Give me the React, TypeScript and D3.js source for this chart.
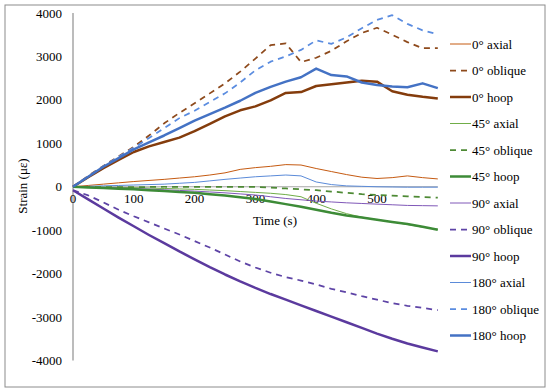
import React from "react";
import * as d3 from "d3";

// time (s) for every series
const times = [0, 25, 50, 75, 100, 125, 150, 175, 200, 225, 250, 275, 300, 325, 350, 375, 400, 425, 450, 475, 500, 525, 550, 575, 600];

// strain readings (με), one array per gauge
const axial0 = [0, 30, 60, 90, 120, 145, 170, 200, 230, 270, 320, 400, 440, 470, 510, 500, 420, 350, 280, 220, 190, 210, 250, 210, 180];
const oblique0 = [0, 250, 480, 700, 920, 1180, 1460, 1700, 1920, 2150, 2380, 2650, 2950, 3260, 3300, 2870, 2970, 3130, 3350, 3540, 3660, 3500, 3330, 3190, 3190];
const hoop0 = [0, 220, 430, 620, 800, 930, 1030, 1130, 1280, 1450, 1620, 1760, 1850, 1990, 2160, 2180, 2320, 2360, 2400, 2440, 2420, 2200, 2120, 2070, 2030];
const axial45 = [0, -5, -10, -15, -20, -30, -40, -50, -60, -75, -90, -110, -130, -150, -180, -230, -380, -510, -620, -700, -760, -810, -870, -930, -980];
const oblique45 = [0, -5, -10, -10, -10, -5, 0, 0, 0, 0, 0, 0, 0, -20, -40, -60, -80, -110, -140, -170, -190, -205, -220, -235, -250];
const hoop45 = [0, -15, -30, -45, -60, -80, -100, -120, -140, -170, -200, -240, -280, -340, -400, -460, -530, -600, -660, -710, -760, -810, -860, -920, -990];
const axial90 = [0, -10, -20, -30, -40, -55, -70, -85, -100, -120, -140, -165, -190, -230, -270, -300, -330, -350, -370, -385, -400, -415, -430, -435, -440];
const oblique90 = [-80, -200, -360, -530, -680, -820, -960, -1100, -1250, -1400, -1560, -1720, -1860, -1980, -2080, -2160, -2250, -2350, -2430, -2520, -2600, -2680, -2740, -2790, -2840];
const hoop90 = [-80, -290, -500, -710, -910, -1110, -1300, -1490, -1670, -1850, -2020, -2180, -2330, -2470, -2600, -2730, -2860, -2990, -3120, -3250, -3380, -3500, -3610, -3700, -3790];
const axial180 = [0, 10, 20, 30, 40, 50, 60, 80, 100, 135, 170, 200, 230, 250, 270, 250, 110, 50, 20, 10, 0, -5, -10, -10, -10];
const oblique180 = [0, 240, 470, 690, 900, 1120, 1350, 1580, 1750, 1950, 2150, 2400, 2680, 2880, 3000, 3150, 3370, 3290, 3440, 3650, 3840, 3950, 3750, 3600, 3510];
const hoop180 = [0, 230, 460, 660, 860, 1020, 1180, 1350, 1520, 1670, 1820, 1980, 2160, 2300, 2420, 2520, 2720, 2570, 2540, 2400, 2340, 2310, 2290, 2380, 2270];

const xTicks = [0, 100, 200, 300, 400, 500];
const yTicks = [4000, 3000, 2000, 1000, 0, -1000, -2000, -3000, -4000];

const seriesNames = [
  "0° axial", "0° oblique", "0° hoop",
  "45° axial", "45° oblique", "45° hoop",
  "90° axial", "90° oblique", "90° hoop",
  "180° axial", "180° oblique", "180° hoop",
];
const seriesValues = [axial0, oblique0, hoop0, axial45, oblique45, hoop45, axial90, oblique90, hoop90, axial180, oblique180, hoop180];
const seriesColors = [
  "#C55A11", "#8E4A1C", "#843C0C",
  "#70AD47", "#4E8A35", "#3D8B37",
  "#8058B8", "#5E44A6", "#5B3A9E",
  "#5B8BD9", "#5A8CE0", "#4472C4",
];

const font = "'Times New Roman', 'Liberation Serif', Times, serif";

const styleFor = (i: number) => {
  const kind = i % 3;
  if (kind === 0) return { width: 1, dash: undefined };
  if (kind === 1) return { width: 1.75, dash: "6,5" };
  return { width: 2.5, dash: undefined };
};

export default function App() {
  const x = d3.scaleLinear().domain([0, 600]).range([73, 437.8]);
  const y = d3.scaleLinear().domain([-4000, 4000]).range([360.5, 13]);

  const line = d3
    .line<[number, number]>()
    .x((d) => x(d[0]))
    .y((d) => y(d[1]));

  // draw order: thin first, thick on top
  const order = [0, 3, 6, 9, 1, 4, 7, 10, 2, 5, 8, 11];

  return (
    <svg
      width={550}
      height={391}
      style={{ position: "absolute", left: 0, top: 0, background: "#fff", fontFamily: font }}
    >
      <rect x={5} y={5} width={540} height={382} fill="#fff" stroke="#8c8c8c" strokeWidth={1} />

      {/* axes */}
      <line x1={x(0)} x2={x(0)} y1={y(4000)} y2={y(-4000)} stroke="#a6a6a6" strokeWidth={1.5} />
      <line x1={x(0)} x2={x(600)} y1={y(0)} y2={y(0)} stroke="#a6a6a6" strokeWidth={1} />

      {yTicks.map((t) => (
        <text key={t} x={62} y={y(t)} dy="0.35em" textAnchor="end" fontSize={13} fill="#000">
          {t}
        </text>
      ))}
      {xTicks.map((t) => (
        <text key={t} x={x(t)} y={y(0) + 12} dy="0.35em" textAnchor="middle" fontSize={13} fill="#000">
          {t}
        </text>
      ))}

      <text x={275} y={220} dy="0.35em" textAnchor="middle" fontSize={13}>
        Time (s)
      </text>
      <text transform="translate(22,186) rotate(-90)" dy="0.35em" textAnchor="middle" fontSize={13}>
        Strain (με)
      </text>

      {/* series */}
      {order.map((i) => {
        const pts = times.map((t, k) => [t, seriesValues[i][k]] as [number, number]);
        const s = styleFor(i);
        return (
          <path
            key={seriesNames[i]}
            d={line(pts) || ""}
            fill="none"
            stroke={seriesColors[i]}
            strokeWidth={s.width}
            strokeDasharray={s.dash}
            strokeLinejoin="round"
          />
        );
      })}

      {/* legend */}
      {seriesNames.map((name, i) => {
        const ly = 44 + i * 26.5;
        const s = styleFor(i);
        return (
          <g key={name}>
            <line
              x1={450}
              x2={471}
              y1={ly}
              y2={ly}
              stroke={seriesColors[i]}
              strokeWidth={s.width}
              strokeDasharray={s.dash}
            />
            <text x={472} y={ly} dy="0.35em" fontSize={13} fill="#000">
              {name}
            </text>
          </g>
        );
      })}
    </svg>
  );
}
